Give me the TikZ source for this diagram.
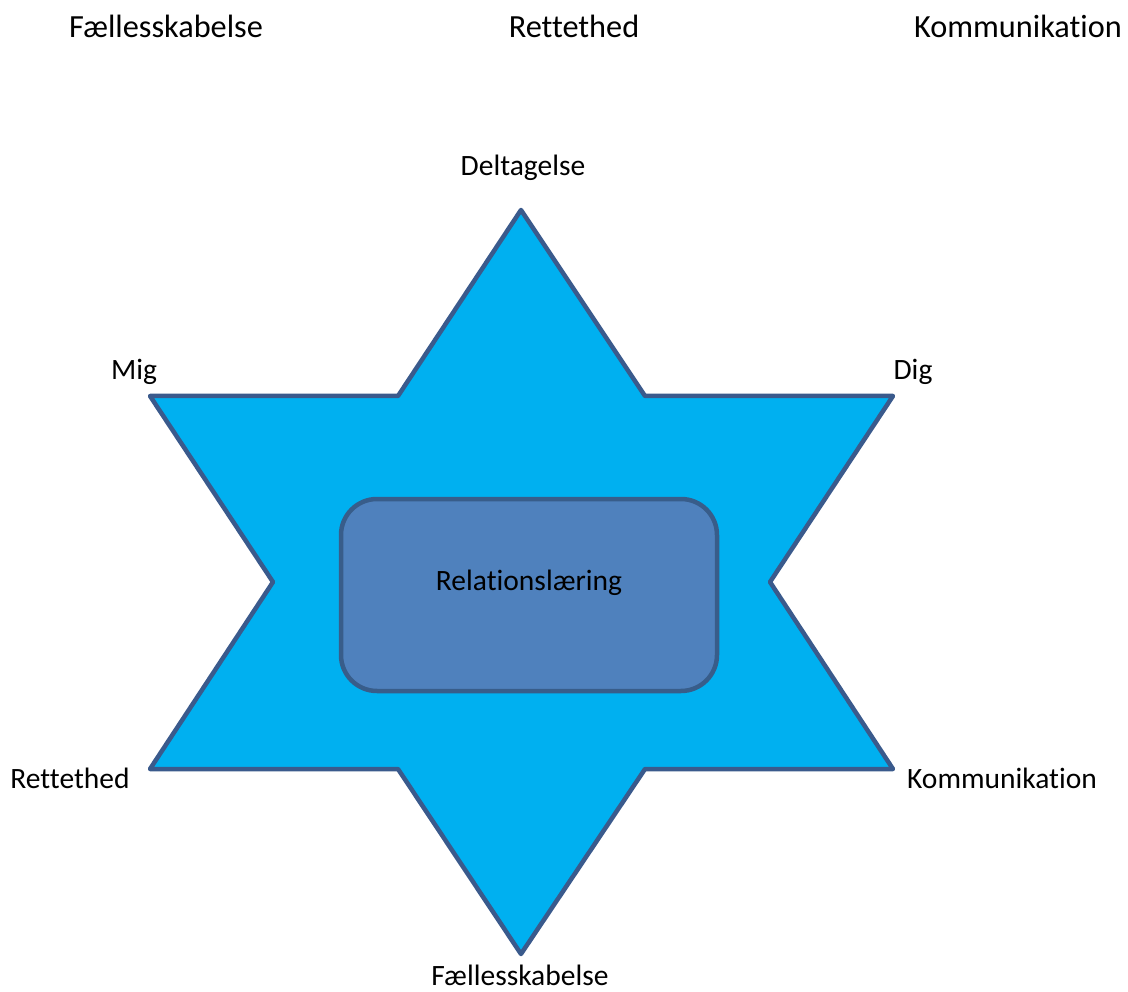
\documentclass[tikz,border=0pt]{standalone}
\usepackage{fontspec}
\setmainfont[Ligatures=NoCommon]{Carlito}
\definecolor{starfill}{HTML}{00B0F0}
\definecolor{starline}{HTML}{3A5A8C}
\definecolor{boxfill}{HTML}{4F81BD}
\definecolor{boxline}{HTML}{385D8A}
\begin{document}
\begin{tikzpicture}[x=1pt,y=-1pt,
  toplabel/.style={font=\fontsize{32.3}{36}\selectfont, inner sep=0pt},
  ptlabel/.style={font=\fontsize{29.5}{34}\selectfont, inner sep=0pt},
  starshape/.style={fill=starfill, draw=starline, line width=4.5pt, line join=round},
  centerbox/.style={fill=boxfill, draw=boxline, line width=4.5pt, rounded corners=36pt}]
\useasboundingbox (0,0) rectangle (1128,992);
% star
\draw[starshape] (521,210) -- (645,396) -- (893,396) -- (770,582) -- (893,769) -- (645,769)
  -- (521,954) -- (398,769) -- (150,769) -- (273,582) -- (150,396) -- (398,396) -- cycle;
% center
\draw[centerbox] (341,499) rectangle (717,691);
\node[ptlabel] (center) at (529,583) {Relationslæring};
% vertex labels
\node[ptlabel] (delt) at (523,168) {Deltagelse};
\node[ptlabel] (mig) at (134,372) {Mig};
\node[ptlabel] (dig) at (913,372) {Dig};
\node[ptlabel] (ret) at (70,778) {Rettethed};
\node[ptlabel] (kom) at (1002,778) {Kommunikation};
\node[ptlabel] (fael) at (520,975) {Fællesskabelse};
% top labels
\node[toplabel] (t1) at (166,26) {Fællesskabelse};
\node[toplabel] (t2) at (574,26) {Rettethed};
\node[toplabel] (t3) at (1018,26) {Kommunikation};
\end{tikzpicture}
\end{document}
